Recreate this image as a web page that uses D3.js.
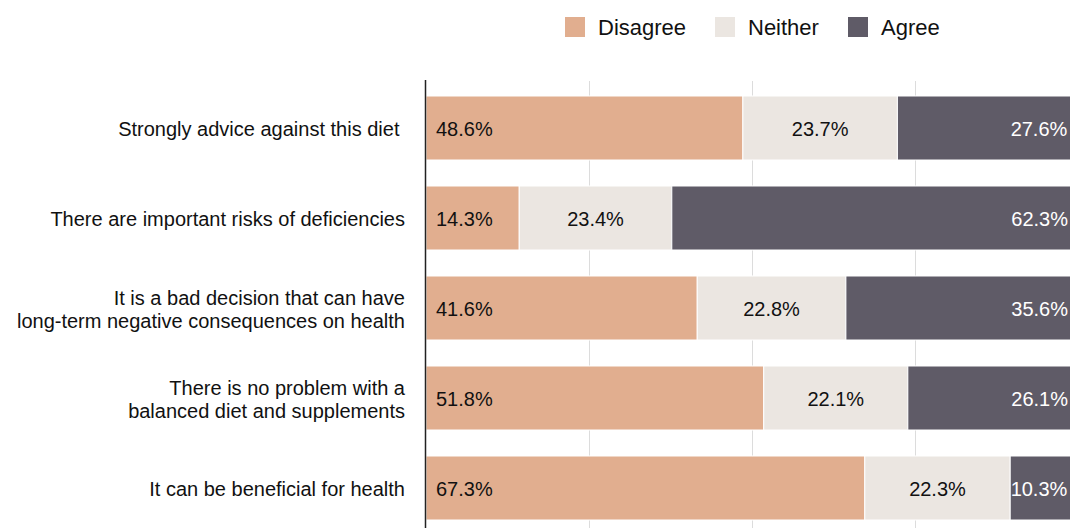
<!DOCTYPE html>
<html><head><meta charset="utf-8">
<script src="https://cdn.jsdelivr.net/npm/d3@7"></script>
<style>body{margin:0;background:#fff}svg{display:block}text{font-family:"Liberation Sans",Arial,Helvetica,sans-serif}</style>
</head><body><svg id="c" width="1070" height="528"></svg>
<script>
const categories = [
  ["Strongly advice against this diet "],
  ["There are important risks of deficiencies"],
  ["It is a bad decision that can have","long-term negative consequences on health"],
  ["There is no problem with a","balanced diet and supplements"],
  ["It can be beneficial for health"]
];
const seriesNames = ["Disagree","Neither","Agree"];
const disagree = [48.6,14.3,41.6,51.8,67.3];
const neither  = [23.7,23.4,22.8,22.1,22.3];
const agree    = [27.6,62.3,35.6,26.1,10.3];
const xTicks = [0,25,50,75,100];
const colors = ["#E1AE8F","#EBE6E1","#5F5B67"];
const textColors = ["#111","#111","#fff"];

const svg = d3.select("#c");
const x = d3.scaleLinear().domain([0,100]).range([426,1078]);
const y = d3.scaleBand().domain(d3.range(categories.length)).range([83,533]).paddingInner(26/90).paddingOuter(13/90);

svg.append("g").selectAll("line").data(xTicks.slice(1)).join("line")
  .attr("x1",d=>Math.round(x(d))+0.5).attr("x2",d=>Math.round(x(d))+0.5)
  .attr("y1",81).attr("y2",528).attr("stroke","#dcdcdc").attr("stroke-width",1);

const rows = categories.map((c,i)=>({i, vals:[disagree[i],neither[i],agree[i]]}));
const segs = [];
rows.forEach(r=>{let acc=0; r.vals.forEach((v,k)=>{segs.push({i:r.i,k,v,x0:acc,x1:acc+v}); acc+=v;});});

svg.append("g").selectAll("rect").data(segs).join("rect")
  .attr("x",d=>x(d.x0)).attr("width",d=>x(d.x1)-x(d.x0))
  .attr("y",d=>y(d.i)).attr("height",y.bandwidth())
  .attr("fill",d=>colors[d.k]).attr("stroke","#fff").attr("stroke-width",1);

svg.append("g").selectAll("text").data(segs).join("text")
  .attr("x",d=>d.k===0?x(d.x0)+10:d.k===1?(x(d.x0)+x(d.x1))/2:x(d.x1)-10)
  .attr("text-anchor",d=>d.k===0?"start":d.k===1?"middle":"end")
  .attr("y",d=>y(d.i)+y.bandwidth()/2+1).attr("dy","0.35em")
  .attr("font-size",20).attr("fill",d=>textColors[d.k])
  .text(d=>d.v.toFixed(1)+"%");

svg.append("line").attr("x1",425.5).attr("x2",425.5).attr("y1",80).attr("y2",528).attr("stroke","#222").attr("stroke-width",1.5);

const cl = svg.append("g").selectAll("text").data(categories).join("text")
  .attr("x",405).attr("text-anchor","end").attr("font-size",20).attr("fill","#111")
  .style("white-space","pre")
  .attr("y",(d,i)=>y(i)+y.bandwidth()/2+1);
cl.each(function(d){
  const t=d3.select(this); const n=d.length;
  d.forEach((line,j)=>{
    t.append("tspan").attr("x",405).attr("dy", j===0 ? ((0.35-(n-1)*0.575)+"em") : "1.15em").text(line);
  });
});

const legX = [565,715,848];
const lg = svg.append("g").selectAll("g").data(seriesNames).join("g");
lg.append("rect").attr("x",(d,i)=>legX[i]).attr("y",17).attr("width",20).attr("height",20).attr("fill",(d,i)=>colors[i]);
lg.append("text").attr("x",(d,i)=>legX[i]+33).attr("y",27).attr("dy","0.35em").attr("font-size",22).attr("fill","#111").text(d=>d);
</script></body></html>
